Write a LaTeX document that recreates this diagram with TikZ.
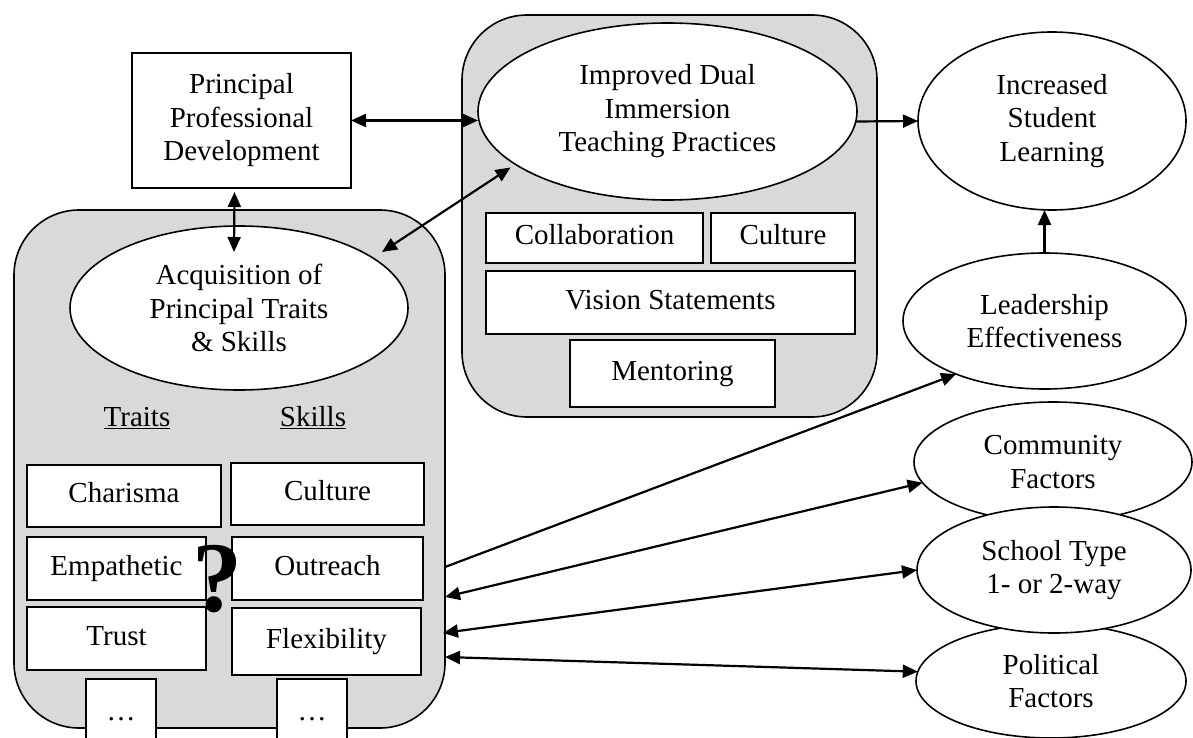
\documentclass[tikz,border=0pt]{standalone}
\usepackage{fontspec}
\setmainfont{Liberation Serif}
\usetikzlibrary{arrows.meta,shapes.geometric,calc}
\definecolor{boxgray}{HTML}{D9D9D9}
\begin{document}
\begin{tikzpicture}[x=1pt,y=-1pt,
  every node/.style={font=\fontsize{29}{33.5}\selectfont, inner sep=0pt, outer sep=0pt},
  graybox/.style={draw, line width=1.6pt, fill=boxgray, rounded corners=65pt},
  wbox/.style={draw, line width=1.6pt, fill=white, text height=20pt, text depth=6.5pt},
  pbox/.style={draw, line width=1.6pt, fill=white, align=center},
  oval/.style={ellipse, draw, fill=white, line width=1.6pt, align=center},
  arr/.style={line width=2.2pt, -{Triangle[length=15pt,width=13pt]}},
  dbl/.style={line width=2.2pt, {Triangle[length=15pt,width=13pt]}-{Triangle[length=15pt,width=13pt]}},
  lbl/.style={text height=20pt, text depth=6.5pt}
]
\useasboundingbox (0,0) rectangle (1193,738);
\clip (0,0) rectangle (1193,738);

% containers
\node[graybox, minimum width=431pt, minimum height=518pt] (leftbox) at (229.5,469) {};
\node[graybox, minimum width=415pt, minimum height=402pt] (midbox) at (669.5,216) {};

% top left
\node[pbox, minimum width=219pt, minimum height=135pt] (ppd) at (241.5,120.5) {Principal\\Professional\\Development};

% middle
\node[oval, minimum width=379pt, minimum height=177pt] (imp) at (667.5,111.5) {Improved Dual\\Immersion\\Teaching Practices};
\node[wbox, minimum width=217pt, minimum height=50pt] (collab) at (594.5,238) {Collaboration};
\node[wbox, minimum width=144pt, minimum height=50pt] (cult1) at (783,238) {Culture};
\node[wbox, minimum width=369pt, minimum height=63pt] (vision) at (670.5,302.5) {Vision Statements};
\node[wbox, minimum width=205pt, minimum height=67pt] (mentor) at (672.5,373.5) {Mentoring};

% left
\node[oval, minimum width=338pt, minimum height=164pt] (acq) at (239,308) {Acquisition of\\Principal Traits\\\& Skills};
\node[lbl] (traits) at (137,420) {\underline{Traits}};
\node[lbl] (skills) at (313,420) {\underline{Skills}};
\node[wbox, minimum width=194pt, minimum height=62pt] (char) at (124,496) {Charisma};
\node[wbox, minimum width=193pt, minimum height=62pt] (cult2) at (327.5,494) {Culture};
\node[wbox, minimum width=179pt, minimum height=63pt] (emp) at (116.5,568.5) {Empathetic};
\node[wbox, minimum width=191pt, minimum height=63pt] (out) at (327.5,568.5) {Outreach};
\node[wbox, minimum width=179pt, minimum height=63pt] (trust) at (116.5,638.5) {Trust};
\node[wbox, minimum width=189pt, minimum height=67pt] (flex) at (326.5,641.5) {Flexibility};
\node[wbox, minimum width=70pt, minimum height=70pt] (dots1) at (121,714) {…};
\node[wbox, minimum width=70pt, minimum height=70pt] (dots2) at (312,714) {…};
\node[font=\fontsize{100}{100}\selectfont\bfseries] (qm) at (217,579) {?};

% right
\node[oval, minimum width=268pt, minimum height=178pt] (inc) at (1052,121) {Increased\\Student\\Learning};
\node[oval, minimum width=283pt, minimum height=136pt] (lead) at (1044.5,321) {Leadership\\Effectiveness};
\node[oval, minimum width=278pt, minimum height=120pt] (comm) at (1053,462) {Community\\Factors};
\node[oval, minimum width=270pt, minimum height=114pt] (pol) at (1051,681) {Political\\Factors};
\node[oval, minimum width=274pt, minimum height=126pt] (school) at (1054,570) {School Type\\1- or 2-way};

% connectors
\draw[dbl] (ppd.east) -- (ppd.east -| imp.west);
\draw[dbl] ($(ppd.south)+(-7,4)$) -- ($(acq.north)+(-5,26)$);
\draw[dbl] ($(acq.center)+(143,-56)$) -- ($(imp.center)+(-157,56)$);
\draw[arr] ($(imp.east)+(-1,10)$) -- (inc.west);
\draw[arr] (lead.north) -- (lead.north |- inc.south);
\draw[arr] ($(leftbox.east)+(0,98)$) -- (lead.211);
\draw[dbl] ($(leftbox.east)+(0,128)$) -- (comm.189);
\draw[dbl] ($(leftbox.east)+(-2,164)$) -- (school.west);
\draw[dbl] ($(leftbox.east)+(0,188)$) -- (pol.176);
\end{tikzpicture}
\end{document}
